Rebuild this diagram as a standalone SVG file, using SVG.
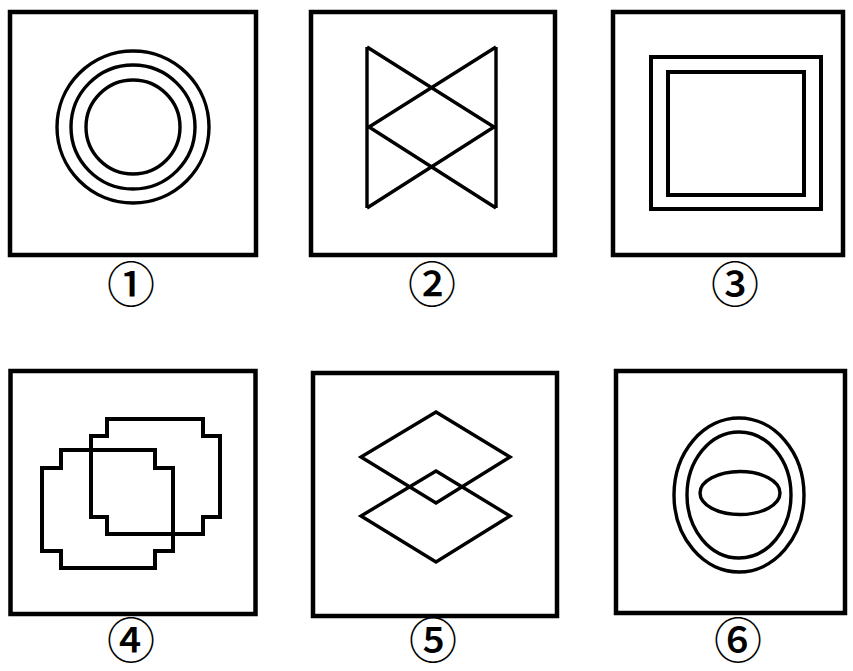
<svg xmlns="http://www.w3.org/2000/svg" width="853" height="671" viewBox="0 0 853 671">
<style>
.box{fill:none;stroke:#000;stroke-width:4.5}
.s3{fill:none;stroke:#000;stroke-width:3.4;stroke-linejoin:miter}
.s4{fill:none;stroke:#000;stroke-width:4;stroke-linejoin:miter}
.lbl{font-family:"Noto Sans CJK SC","DejaVu Sans",sans-serif;font-size:48px;font-weight:500;fill:#000;text-anchor:middle}
</style>
<rect width="853" height="671" fill="#fff"/>
<g id="panel1">
<rect class="box" x="10" y="12" width="246" height="243"/>
<circle class="s3" cx="133" cy="127" r="76"/>
<circle class="s3" cx="133" cy="127" r="62"/>
<circle class="s3" cx="133" cy="127" r="47"/>
<text class="lbl" x="131" y="302">①</text>
</g>
<g id="panel2">
<rect class="box" x="311" y="12" width="244" height="243"/>
<path class="s3" d="M367,47 V208 M496,47 V208 M367,47 L494,127 L367,208 M496,47 L369,127 L496,208"/>
<text class="lbl" x="432" y="302">②</text>
</g>
<g id="panel3">
<rect class="box" x="613" y="12" width="230" height="243"/>
<rect class="s4" x="651" y="57" width="170" height="152"/>
<rect class="s4" x="668" y="72" width="136" height="123"/>
<text class="lbl" x="735" y="302">③</text>
</g>
<g id="panel4">
<rect class="box" x="10.5" y="371" width="245" height="243"/>
<path class="s4" d="M107,419 H203 V436 H220 V517 H203 V534 H107 V517 H91 V436 H107 Z"/>
<path class="s4" d="M61,450 H155 V468 H173 V551 H155 V568 H61 V551 H42 V468 H61 Z"/>
<text class="lbl" x="131" y="658">④</text>
</g>
<g id="panel5">
<rect class="box" x="313" y="373" width="244" height="243"/>
<path class="s3" d="M436,412 L510,457 L436,503 L361,457 Z"/>
<path class="s3" d="M436,471 L510,516 L436,562 L361,516 Z"/>
<text class="lbl" x="433" y="658">⑤</text>
</g>
<g id="panel6">
<rect class="box" x="616" y="371" width="229" height="242"/>
<ellipse class="s3" cx="739" cy="495" rx="65" ry="77"/>
<ellipse class="s3" cx="739" cy="495" rx="52" ry="63"/>
<ellipse class="s3" cx="740" cy="493" rx="40" ry="21.5"/>
<text class="lbl" x="738" y="658">⑥</text>
</g>
</svg>
